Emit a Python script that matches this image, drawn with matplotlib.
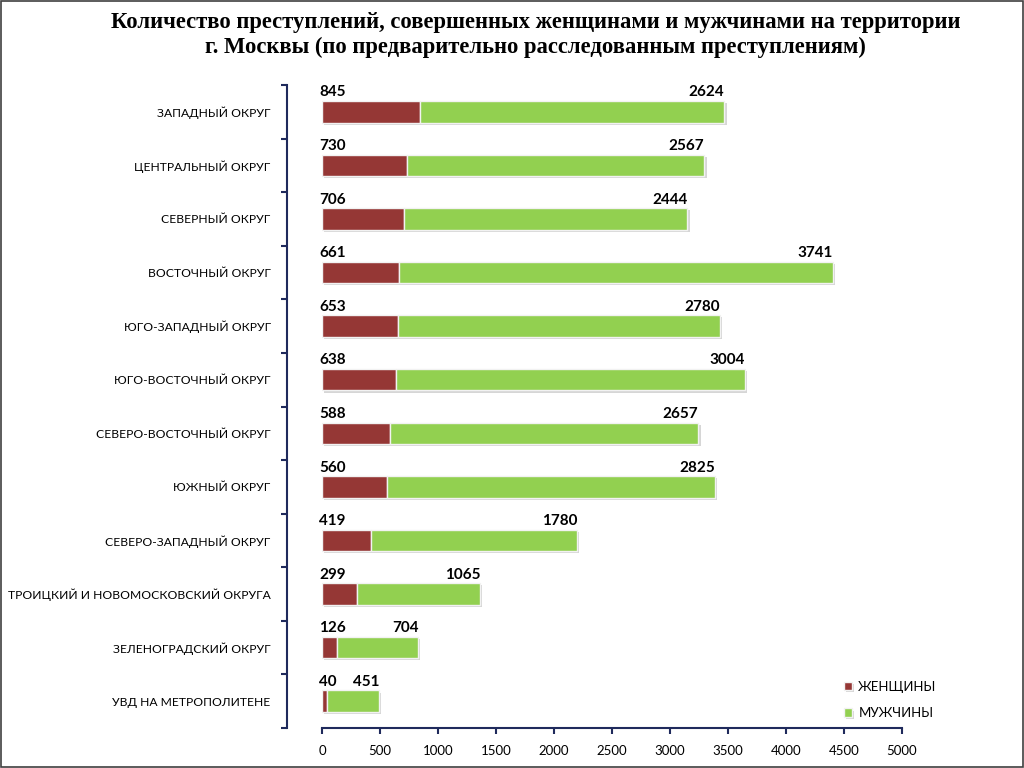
import matplotlib
matplotlib.use("Agg")
import matplotlib.pyplot as plt
import matplotlib.patheffects as pe
import numpy as np
from matplotlib.patches import Rectangle

districts = [
    "ЗАПАДНЫЙ ОКРУГ", "ЦЕНТРАЛЬНЫЙ ОКРУГ", "СЕВЕРНЫЙ ОКРУГ", "ВОСТОЧНЫЙ ОКРУГ",
    "ЮГО-ЗАПАДНЫЙ ОКРУГ", "ЮГО-ВОСТОЧНЫЙ ОКРУГ", "СЕВЕРО-ВОСТОЧНЫЙ ОКРУГ",
    "ЮЖНЫЙ ОКРУГ", "СЕВЕРО-ЗАПАДНЫЙ ОКРУГ", "ТРОИЦКИЙ И НОВОМОСКОВСКИЙ ОКРУГА",
    "ЗЕЛЕНОГРАДСКИЙ ОКРУГ", "УВД НА МЕТРОПОЛИТЕНЕ",
]
women = [845, 730, 706, 661, 653, 638, 588, 560, 419, 299, 126, 40]
men = [2624, 2567, 2444, 3741, 2780, 3004, 2657, 2825, 1780, 1065, 704, 451]
x_ticks = [0, 500, 1000, 1500, 2000, 2500, 3000, 3500, 4000, 4500, 5000]

title = ("Количество преступлений, совершенных женщинами и мужчинами на территории\n"
         "г. Москвы (по предварительно расследованным преступлениям)")

RED = "#953735"
GREEN = "#92D050"
NAVY = "#1F2A5C"
LABEL_FONT = "Lato"

fig = plt.figure(figsize=(10.24, 7.68), dpi=100)
ax = fig.add_axes([0.3145, 0.0521, 0.5664, 0.8372])

y = np.arange(len(districts))
shadow = [pe.SimplePatchShadow(offset=(1.5, -1.5), shadow_rgbFace="#999999", alpha=0.4),
          pe.Normal()]
bw = ax.barh(y, women, height=0.4, color=RED, edgecolor="#f2f2f2", linewidth=1,
             label="ЖЕНЩИНЫ", zorder=3)
bm = ax.barh(y, men, left=women, height=0.4, color=GREEN, edgecolor="#f2f2f2",
             linewidth=1, label="МУЖЧИНЫ", zorder=3)
for b in list(bw) + list(bm):
    b.set_path_effects(shadow)

# value labels above each bar
for yi, w, m in zip(y, women, men):
    ax.text(-25, yi - 0.23, str(w), ha="left", va="bottom", fontsize=11,
            fontweight="bold", family=LABEL_FONT, zorder=4)
    ax.text(w + m, yi - 0.23, str(m), ha="right", va="bottom", fontsize=11,
            fontweight="bold", family=LABEL_FONT, zorder=4)

ax.set_xlim(0, 5000)
ax.set_ylim(len(districts) - 0.5, -0.5)
ax.set_xticks(x_ticks)
ax.set_xticklabels([str(t) for t in x_ticks])
ax.set_yticks(y)
ax.set_yticklabels(districts)
ax.set_yticks(np.arange(len(districts) + 1) - 0.5, minor=True)
ax.set_yticklabels([], minor=True)
ax.tick_params(axis="y", which="major", length=0, pad=12, labelsize=8.7,
               labelfontfamily=LABEL_FONT)
ax.tick_params(axis="y", which="minor", length=4, width=1.5, color=NAVY, direction="out")
ax.tick_params(axis="x", length=4, width=1.5, color=NAVY, direction="out", pad=8,
               labelsize=9.5, labelfontfamily=LABEL_FONT)

for s in ["top", "right"]:
    ax.spines[s].set_visible(False)
ax.spines["left"].set_position(("outward", 25))
ax.spines["left"].set_color(NAVY)
ax.spines["left"].set_linewidth(1.5)
ax.spines["bottom"].set_color(NAVY)
ax.spines["bottom"].set_linewidth(1.5)

ax.legend(loc="lower right", bbox_to_anchor=(1.08, -0.005), frameon=False,
          handlelength=0.6, handleheight=0.6, handletextpad=0.5, labelspacing=1.1,
          prop={"family": LABEL_FONT, "size": 9.5})

fig.text(0.523, 0.985, title, ha="center", va="top", fontsize=16.3,
         fontweight="bold", family="Liberation Serif", linespacing=1.25)

fig.patches.append(Rectangle((0.001, 0.001), 0.998, 0.998, transform=fig.transFigure,
                             fill=False, edgecolor="#404040", linewidth=1.2))

fig.savefig("out.png", dpi=100)
